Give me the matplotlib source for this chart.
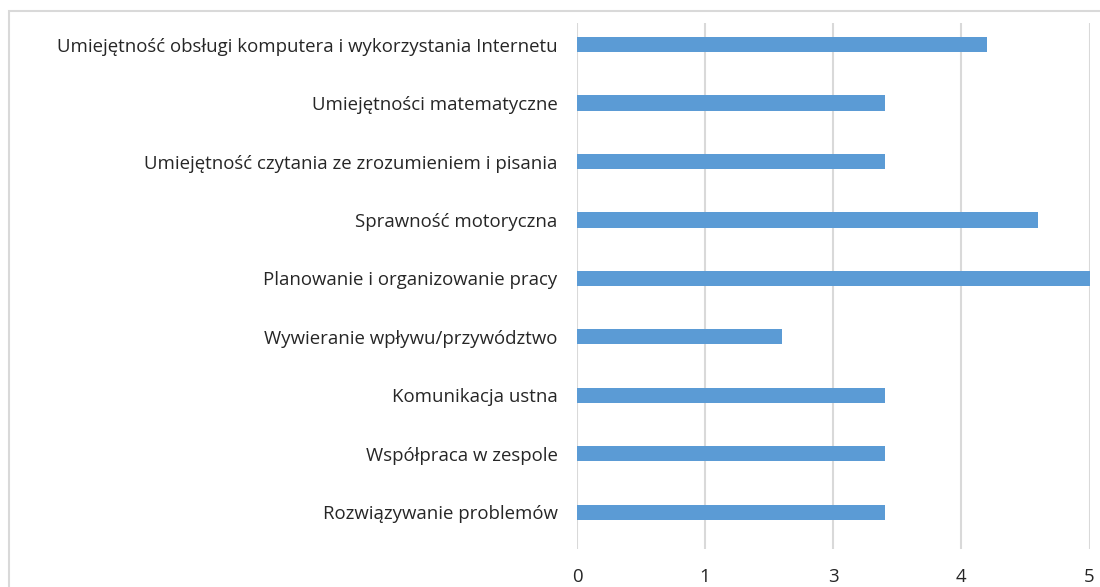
import matplotlib.pyplot as plt
from matplotlib.patches import Rectangle

categories = [
    "Umiejętność obsługi komputera i wykorzystania Internetu",
    "Umiejętności matematyczne",
    "Umiejętność czytania ze zrozumieniem i pisania",
    "Sprawność motoryczna",
    "Planowanie i organizowanie pracy",
    "Wywieranie wpływu/przywództwo",
    "Komunikacja ustna",
    "Współpraca w zespole",
    "Rozwiązywanie problemów",
]
# bar lengths as read on the axis (ticks equally spaced)
values = [3.2, 2.4, 2.4, 3.6, 4.0, 1.6, 2.4, 2.4, 2.4]
tick_pos = [0, 1, 2, 3, 4]
tick_labels = ["0", "1", "3", "4", "5"]

plt.rcParams['font.family'] = ['Open Sans', 'DejaVu Sans']

fig = plt.figure(figsize=(11, 5.87), dpi=100)
# light chart border
fig.patches.append(Rectangle((9 / 1100, -0.1), 1.2, 1 - 11 / 587 + 0.1,
                             transform=fig.transFigure, fill=False,
                             edgecolor="#d9d9d9", linewidth=1.5))

ax = fig.add_axes([577 / 1100, 1 - 549 / 587, (1089.5 - 577) / 1100, (549 - 23) / 587])

ypos = [i - 0.13 for i in range(len(categories))]
ax.barh(ypos, values, height=0.26, color="#5b9bd5", zorder=3)

ax.set_xlim(0, 4)
ax.set_ylim(len(categories) - 0.5, -0.5)
ax.set_xticks(tick_pos)
ax.set_xticklabels(tick_labels)
ax.set_yticks(ypos)
ax.set_yticklabels(categories)
ax.tick_params(axis="both", length=0, labelsize=13.4, labelcolor="#262626")
ax.tick_params(axis="y", pad=14)
ax.tick_params(axis="x", pad=14)

ax.grid(axis="x", color="#d9d9d9", linewidth=1.5, zorder=0)
ax.set_axisbelow(True)
for s in ax.spines.values():
    s.set_visible(False)

fig.savefig("out.png", dpi=100)
